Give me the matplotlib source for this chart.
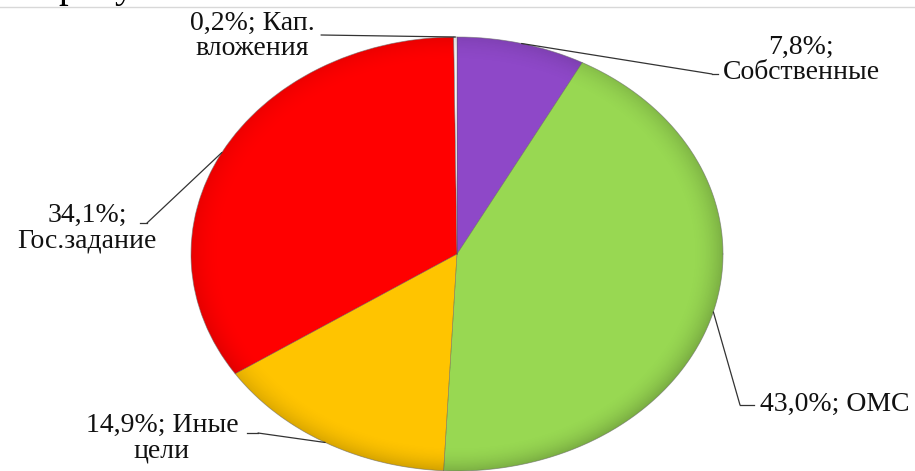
import numpy as np
from matplotlib import pyplot as plt
from matplotlib.lines import Line2D
from matplotlib.patches import Ellipse

# data
labels = ['Собственные', 'ОМС', 'Иные цели', 'Гос.задание', 'Кап. вложения']
values = [7.8, 43.0, 14.9, 34.1, 0.2]
label_texts = ['7,8%;\nСобственные', '43,0%; ОМС', '14,9%; Иные\nцели',
               '34,1%;\nГос.задание', '0,2%; Кап.\nвложения']
colors = ['#8E48C8', '#98D852', '#FFC400', '#FF0000', '#F4F4F4']

W, H = 915, 471
cx, cy = 457, 254          # pie centre in image pixels
rx, ry = 266, 217          # horizontal / vertical radius in pixels

plt.rcParams['font.family'] = ['Liberation Serif', 'DejaVu Serif']

fig = plt.figure(figsize=(W/100, H/100), dpi=100)
ax = fig.add_axes([0, 0, 1, 1])
wedges, _ = ax.pie(values, colors=colors, startangle=90, counterclock=False,
                   radius=1, wedgeprops=dict(edgecolor='none', linewidth=0))
ax.set_aspect('auto')
ax.set_xlim(-cx/rx, (W-cx)/rx)
ax.set_ylim(-(H-cy)/ry, cy/ry)
ax.axis('off')

# soft rim shading to mimic the bevelled 3D look
gx, gy = np.meshgrid(np.linspace(-1, 1, 400), np.linspace(-1, 1, 400))
rr = np.hypot(gx, gy)
shade = np.zeros((400, 400, 4))
shade[..., 3] = np.clip((rr - 0.88) / 0.12, 0, 1) ** 2 * 0.22
shade[..., 3] *= np.clip(0.6 - 0.4 * (gy - gx) / 2, 0.2, 1)
im = ax.imshow(shade, extent=(-1, 1, -1, 1), origin='lower', aspect='auto',
               interpolation='bilinear', zorder=3)
clip = Ellipse((0, 0), 2, 2, transform=ax.transData, facecolor='none', edgecolor='none')
ax.add_patch(clip)
im.set_clip_path(clip)

# outline of the pie
t = np.linspace(0, 2*np.pi, 400)
ax.plot(np.cos(t), np.sin(t), color='#6a6a6a', lw=0.6, alpha=0.6, zorder=4)
# seams between slices
for w in wedges:
    for a in (w.theta1, w.theta2):
        ax.plot([0, np.cos(np.radians(a))], [0, np.sin(np.radians(a))],
                color='#555555', lw=0.4, alpha=0.5, zorder=4)

def img2fig(x, y):
    return (x, H - y)

# text layout (image pixels): block centre, text end point, elbow point
layout = [
    dict(xy=(801, 60), end=(718, 74), elbow=(712, 74)),
    dict(xy=(835, 404), end=(754, 405), elbow=(740, 405)),
    dict(xy=(162, 438), end=(247, 433), elbow=(258, 433)),
    dict(xy=(87, 228), end=(140, 223), elbow=(147, 223)),
    dict(xy=(252, 36), end=(321, 35), elbow=(321, 35)),
]

for w, txt, lay in zip(wedges, label_texts, layout):
    mid = np.radians((w.theta1 + w.theta2) / 2)
    ax_pt = (np.cos(mid), np.sin(mid))
    fx, fy = img2fig(*lay['xy'])
    fig.text(fx/W, fy/H, txt, ha='center', va='center', fontsize=20,
             linespacing=1.02, color='#111111')
    ex, ey = img2fig(*lay['end'])
    bx, by = img2fig(*lay['elbow'])
    fig.add_artist(Line2D([ex/W, bx/W], [ey/H, by/H], color='#333333', lw=0.9))
    ax.annotate('', xy=ax_pt, xycoords='data', xytext=(bx, by),
                textcoords='figure pixels',
                arrowprops=dict(arrowstyle='-', color='#333333', lw=0.9,
                                shrinkA=0, shrinkB=0), zorder=5)

# fragment of the line above, cut by the page
fig.add_artist(Line2D([0, 1], [1 - 7/H, 1 - 7/H], color='#d8d8d8', lw=1))
fig.text(58/W, 1 + 3/H, 'рисунке', fontsize=28, va='baseline', ha='left')

fig.savefig('out.png', dpi=100)
